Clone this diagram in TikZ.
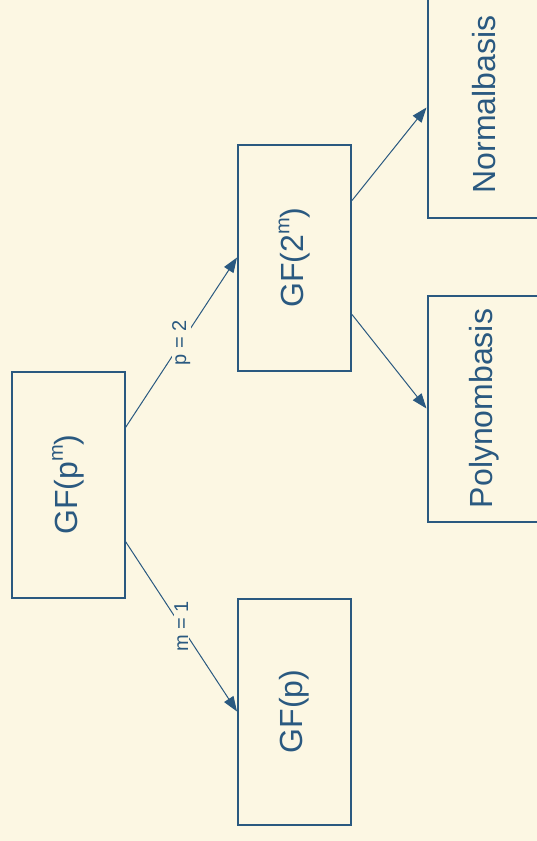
\documentclass[tikz,border=0pt]{standalone}
\usepackage{fontspec}
\setmainfont{Liberation Sans}
\usetikzlibrary{arrows.meta,calc}
\definecolor{paper}{HTML}{FCF7E3}
\definecolor{ink}{HTML}{2A5980}
\newcommand{\supm}{\raisebox{0.45em}{\fontsize{20}{20}\selectfont m}}
\tikzset{
  field/.style={draw=ink, line width=2pt, fill=none, minimum width=113pt,
    minimum height=226pt, inner sep=0pt, text=ink,
    font=\fontsize{32}{38}\selectfont},
  link/.style={draw=ink, line width=1pt, -{Triangle[length=15pt,width=11pt]}},
  cond/.style={fill=paper, text=ink, rotate=90, inner sep=0.5pt,
    font=\fontsize{20}{24}\selectfont}
}
\begin{document}
\begin{tikzpicture}[x=1pt, y=-1pt]
  \fill[paper] (0,0) rectangle (537,841);
  \useasboundingbox (0,0) rectangle (537,841);

  % fields
  \node[field] (gfpm) at (68,484.5)  {\rotatebox{90}{GF(p\supm)}};
  \node[field] (gf2m) at (294.5,257.5) {\rotatebox{90}{GF(2\supm)}};
  \node[field] (gfp)  at (294.5,711.5) {\rotatebox{90}{GF(p)}};
  \node[field] (nb)   at (484,104.5) {\rotatebox{90}{Normalbasis}};
  \node[field] (pb)   at (484,408.5) {\rotatebox{90}{Polynombasis}};

  % connectors
  \draw[link] ($(gfpm.north east)!0.25!(gfpm.south east)$) -- (gf2m.west)
    node[cond, midway] {p = 2};
  \draw[link] ($(gfpm.north east)!0.75!(gfpm.south east)$) -- (gfp.west)
    node[cond, midway] {m = 1};
  \draw[link] ($(gf2m.north east)!0.25!(gf2m.south east)$) -- ($(nb.west)+(0,3)$);
  \draw[link] ($(gf2m.north east)!0.75!(gf2m.south east)$) -- (pb.west);
\end{tikzpicture}
\end{document}
